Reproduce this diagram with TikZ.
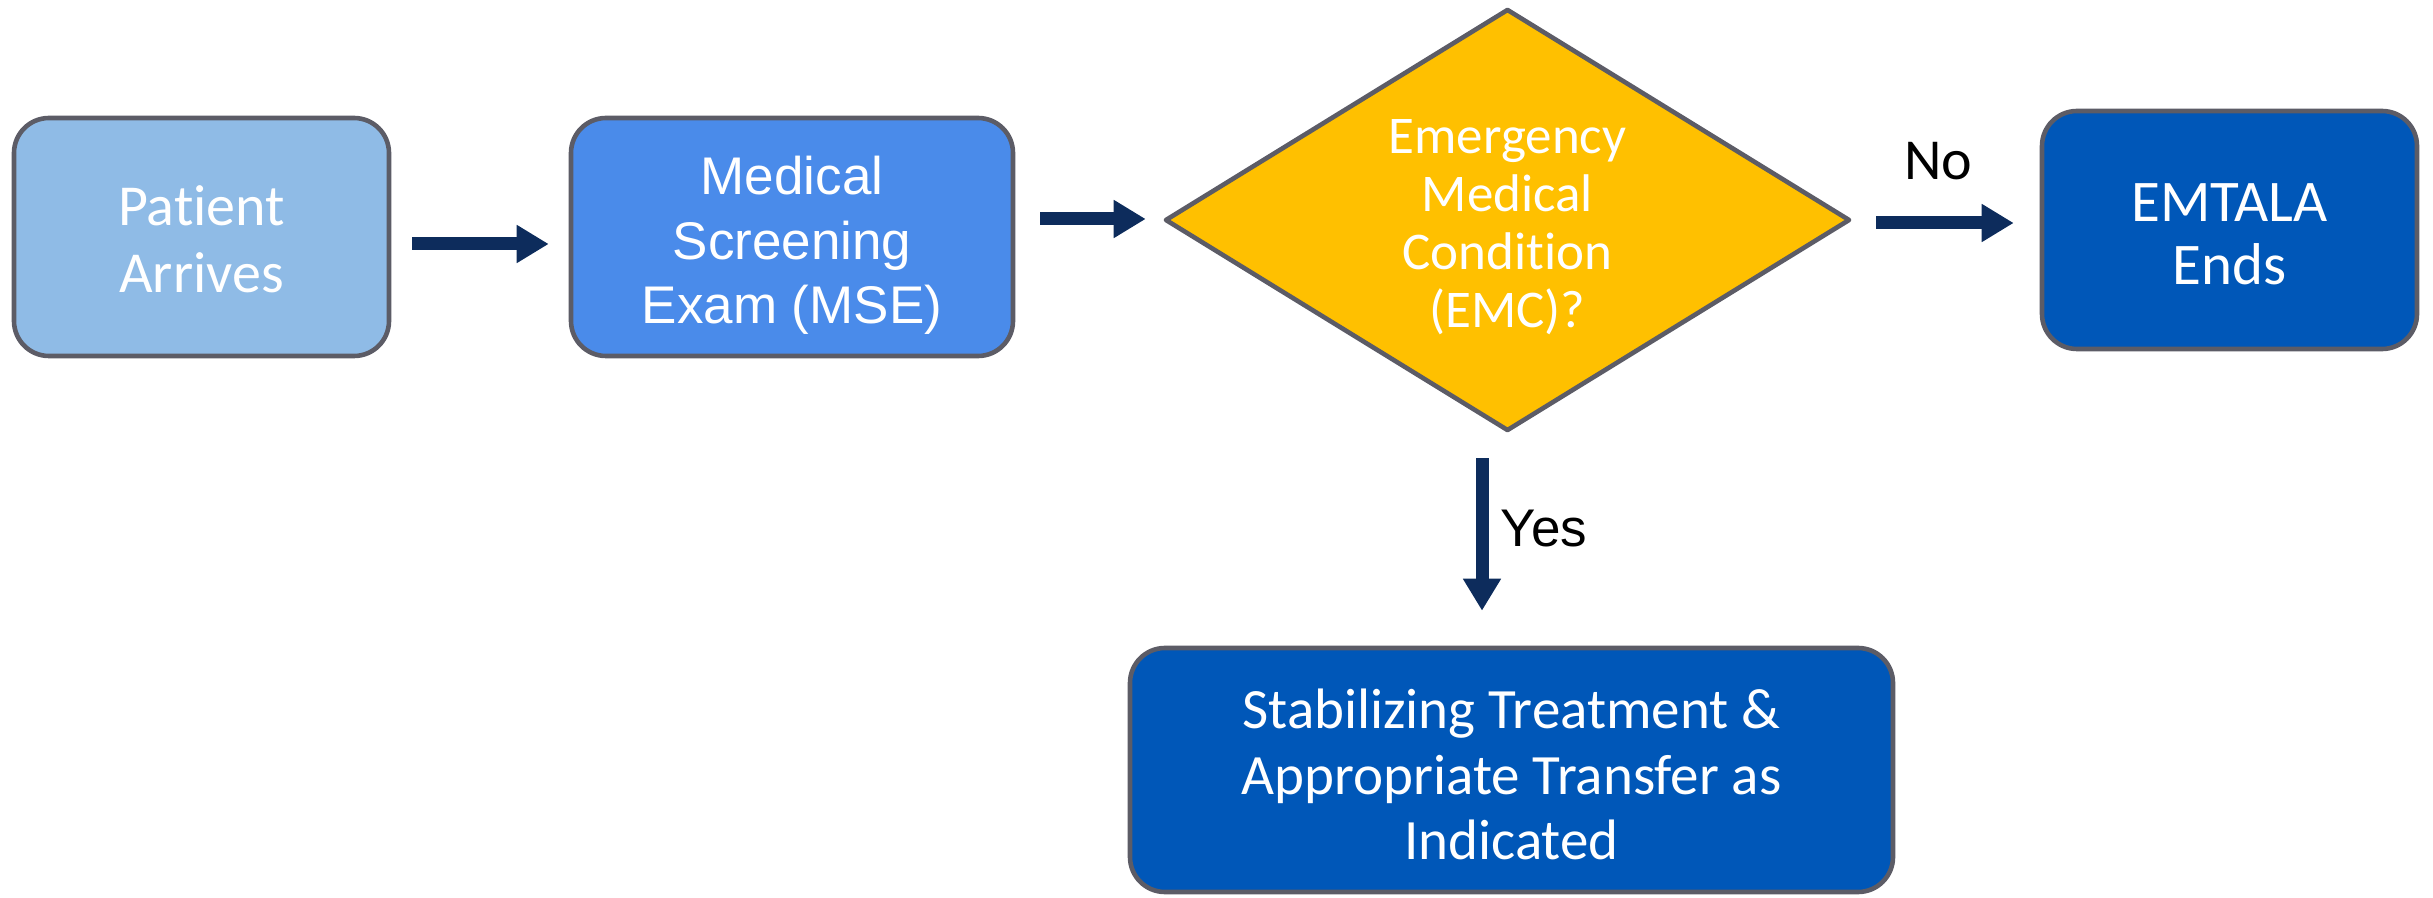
\documentclass[tikz,border=0pt]{standalone}
\usepackage{fontspec}
\setmainfont[Ligatures=NoCommon]{Carlito}
\newfontfamily\arialf{Liberation Sans}
\usetikzlibrary{shapes.geometric,arrows.meta}
\definecolor{cA}{HTML}{8FBBE6}
\definecolor{cB}{HTML}{4A8BEA}
\definecolor{cY}{HTML}{FFC000}
\definecolor{cD}{HTML}{0057B8}
\definecolor{cbord}{HTML}{5C5C66}
\definecolor{carrow}{HTML}{0D2C5C}
\begin{document}
\begin{tikzpicture}[x=0.5pt,y=-0.5pt,
  box/.style={draw=cbord,line width=2.3pt,rounded corners=17.5pt,inner sep=0pt},
  intext/.style={text=white,align=center,inner sep=0pt},
  flow/.style={draw=carrow,line width=6.5pt,-{Triangle[width=18pt,length=16pt]}},
  lbl/.style={text=black,inner sep=0pt}
]
\useasboundingbox (0,0) rectangle (2433,898);

\node[box,fill=cA,minimum width=187.5pt,minimum height=119pt,
      label={[intext,yshift=-1.2pt,font=\fontsize{29}{33.4}\selectfont]center:{Patient\\Arrives}}] (pa) at (201.5,237) {};
\node[box,fill=cB,minimum width=221pt,minimum height=119pt,
      label={[intext,yshift=-4.3pt,font=\arialf\fontsize{26.5}{32.2}\selectfont]center:{Medical\\Screening\\Exam (MSE)}}] (mse) at (792,237) {};
\node[diamond,draw=cbord,line width=2.3pt,line join=round,fill=cY,
      minimum width=342.5pt,minimum height=211pt,inner sep=0pt,
      label={[intext,yshift=-3.5pt,font=\fontsize{26.5}{29}\selectfont]center:{Emergency\\Medical\\Condition\\(EMC)?}}] (emc) at (1507.5,220) {};
\node[box,fill=cD,minimum width=187.5pt,minimum height=119pt,
      label={[intext,yshift=-2pt,font=\fontsize{29.5}{31.3}\selectfont]center:{EMTALA\\Ends}}] (emt) at (2229.5,230) {};
\node[box,fill=cD,minimum width=381.5pt,minimum height=122pt,
      label={[intext,yshift=-2.3pt,font=\fontsize{28.5}{32.6}\selectfont]center:{Stabilizing Treatment \&\\Appropriate Transfer as\\Indicated}}] (stab) at (1511.5,770) {};

\draw[flow] ([shift={(21,7)}]pa.east) -- ([shift={(-20,7)}]mse.west);
\draw[flow] ([shift={(25,-18)}]mse.east) -- ([shift={(-17,-1)}]emc.west);
\draw[flow] ([shift={(24,3)}]emc.east) -- node[lbl,pos=0.45,yshift=31pt,font=\fontsize{29}{30}\selectfont] (no) {No} ([shift={(-26,-7)}]emt.west);
\draw[flow] ([shift={(-25.5,25)}]emc.south) -- node[lbl,pos=0.46,xshift=31pt,font=\arialf\fontsize{26.5}{30}\selectfont] (yes) {Yes} ([shift={(-29.5,-35)}]stab.north);
\end{tikzpicture}
\end{document}
